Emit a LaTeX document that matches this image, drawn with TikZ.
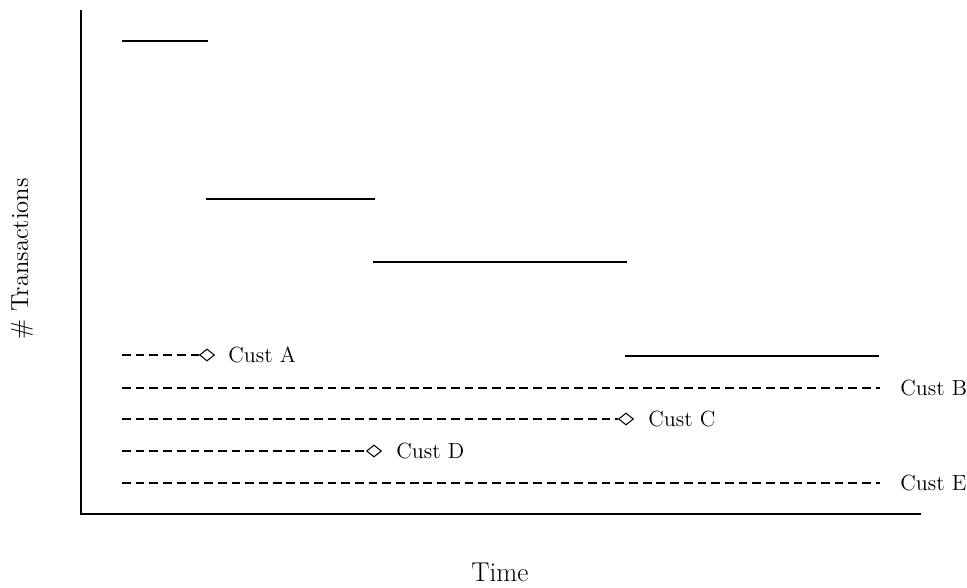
\documentclass[tikz,border=0pt]{standalone}
\usepackage{tikz}
\usetikzlibrary{shapes.geometric}

\begin{document}
\begin{tikzpicture}[x=0.02cm, y=-0.02cm,
	axisline/.style={line width=1.6pt},
	stair/.style={line width=1.1pt},
	custline/.style={line width=1.1pt, dash pattern=on 5pt off 2.8pt},
	endmark/.style={shape=diamond, draw, fill=white, line width=0.6pt, inner sep=0pt, minimum width=0.3cm, minimum height=0.24cm},
	custlabel/.style={anchor=west, inner sep=0pt, font=\fontsize{12.5}{15}\selectfont}]
	\useasboundingbox (0,0) rectangle (967,588);
	% axes
	\coordinate (top) at (81,10);
	\coordinate (origin) at (81,514);
	\coordinate (right) at (921,514);
	\draw[axisline] (top) -- (origin) -- (right);
	\draw (22,259) node[rotate=90, font=\fontsize{14}{17}\selectfont](ylab) {\# Transactions};
	\draw (500,572) node[font=\fontsize{15.5}{18}\selectfont](xlab) {Time};
	% number of active customers
	\draw[stair] (122,41) -- (208,41);
	\draw[stair] (206,199) -- (375,199);
	\draw[stair] (373,262) -- (627,262);
	\draw[stair] (625,356) -- (879,356);
	% customer lifetimes
	\draw (122,355) coordinate(a0);
	\draw (122,388) coordinate(b0);
	\draw (122,419) coordinate(c0);
	\draw (122,451) coordinate(d0);
	\draw (122,483) coordinate(e0);
	\draw (207,355) node[endmark](a1) {};
	\draw (880,388) coordinate(b1);
	\draw (626,419) node[endmark](c1) {};
	\draw (374,451) node[endmark](d1) {};
	\draw (880,483) coordinate(e1);
	\draw[custline] (a0) -- (a1.west);
	\draw[custline] (b0) -- (b1);
	\draw[custline] (c0) -- (c1.west);
	\draw[custline] (d0) -- (d1.west);
	\draw[custline] (e0) -- (e1);
	\draw (228,355) node[custlabel](la) {Cust A};
	\draw (900,388) node[custlabel](lb) {Cust B};
	\draw (648,419) node[custlabel](lc) {Cust C};
	\draw (396,451) node[custlabel](ld) {Cust D};
	\draw (900,483) node[custlabel](le) {Cust E};
\end{tikzpicture}
\end{document}
